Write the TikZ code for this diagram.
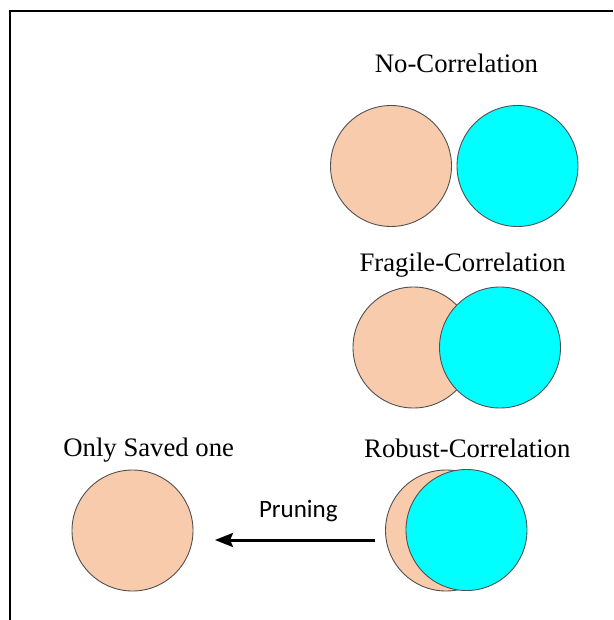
\documentclass[tikz,border=0pt]{standalone}
\usepackage{fontspec}
\setmainfont{Liberation Serif}
\newfontfamily\prunefont{Carlito}
\usepackage{xcolor}
\usetikzlibrary{arrows.meta}
\definecolor{peach}{HTML}{F8CBAD}
\definecolor{aqua}{HTML}{00FFFF}
\definecolor{rim}{HTML}{505050}

\begin{document}
\begin{tikzpicture}[x=1pt, y=-1pt,
	ball/.style = {circle, draw=rim, line width=0.9pt, inner sep=0pt, minimum size=121pt},
	lbl/.style = {anchor=base, inner sep=0pt, font=\fontsize{26.7}{30}\selectfont}]
	\useasboundingbox (0,0) rectangle (613,620);
	\draw[line width=2pt] (10,620) -- (10,11) -- (613,11);

	% no correlation
	\node[lbl] (lblNo) at (456.5,72.7) {No-Correlation};
	\node[ball, fill=peach] (noA) at (391,166) {};
	\node[ball, fill=aqua] (noB) at (517.5,166) {};

	% fragile correlation
	\node[lbl] (lblFrag) at (462.7,271.7) {Fragile-Correlation};
	\node[ball, fill=peach] (fragA) at (413.5,347.5) {};
	\node[ball, fill=aqua] (fragB) at (500,347.5) {};

	% robust correlation
	\node[lbl] (lblRob) at (467.3,457.3) {Robust-Correlation};
	\node[ball, fill=peach] (robA) at (446,530.5) {};
	\node[ball, fill=aqua] (robB) at (466.5,530) {};

	% what is left after pruning
	\node[lbl] (lblSaved) at (148.7,456.7) {Only Saved one};
	\node[ball, fill=peach] (saved) at (132.5,530.5) {};

	\coordinate (pruneFrom) at (375,540);
	\coordinate (pruneTo) at (215,540);
	\draw[line width=3pt, -{Stealth[length=18pt, width=14pt, inset=3pt]}] (pruneFrom) -- (pruneTo);
	\node[anchor=base, inner sep=0pt, font=\prunefont\fontsize{25}{28}\selectfont] (pruneLbl) at (298.3,517.3) {Pruning};
\end{tikzpicture}
\end{document}
